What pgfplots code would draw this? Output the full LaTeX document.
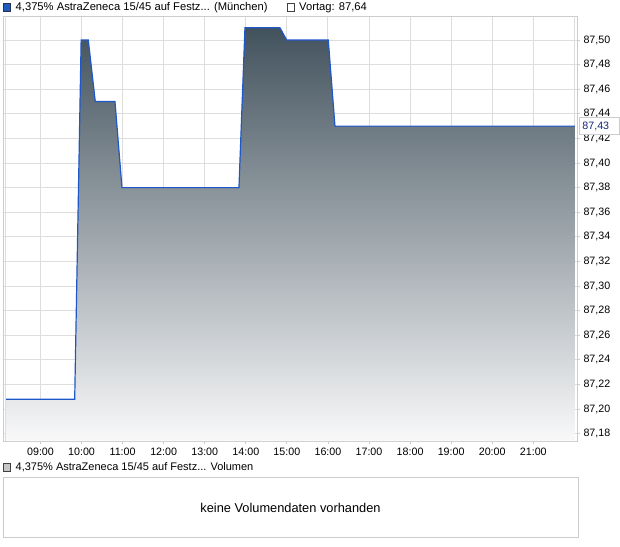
\documentclass[border=0pt]{standalone}
\usepackage{fontspec}
\setmainfont{Liberation Sans}
\usepackage{pgfplots}
\pgfplotsset{compat=1.18}
\definecolor{lineblue}{RGB}{30,88,200}
\definecolor{legblue}{RGB}{31,90,190}
\definecolor{legborder}{RGB}{40,50,80}
\definecolor{gridc}{RGB}{221,221,221}
\definecolor{framec}{RGB}{204,204,204}
\definecolor{shtop}{RGB}{66,82,93}
\definecolor{shbot}{RGB}{249,249,250}
\definecolor{labblue}{RGB}{20,40,120}
\begin{document}
\begin{tikzpicture}[x=1pt,y=1pt,font=\fontsize{10.5}{12}\selectfont]
\path (0,0) rectangle (620,-546);
% header legend
\draw[fill=legblue, draw=legborder, line width=0.8pt] (3,-3.5) rectangle (10.5,-11);
\node[anchor=west, inner sep=0, font=\fontsize{11.2}{13}\selectfont] at (15.5,-7.5) {4,375\% AstraZeneca 15/45 auf Festz... (München)};
\draw[fill=white, draw=black!75, line width=0.8pt] (287,-3.5) rectangle (294.5,-11);
\node[anchor=west, inner sep=0, font=\fontsize{11.2}{13}\selectfont] at (299,-7.5) {Vortag: 87,64};
\begin{axis}[
  at={(3pt,-16.3pt)}, anchor=north west,
  scale only axis, width=574pt, height=424.7pt,
  xmin=8.087, xmax=22.065, ymin=87.174, ymax=87.5193,
  axis line style={framec, line width=0.8pt},
  xtick={9,10,11,12,13,14,15,16,17,18,19,20,21},
  xticklabels={09:00,10:00,11:00,12:00,13:00,14:00,15:00,16:00,17:00,18:00,19:00,20:00,21:00},
  extra x ticks={22}, extra x tick labels={},
  extra x tick style={grid=major, major tick length=0pt},
  ytick={87.18,87.20,87.22,87.24,87.26,87.28,87.30,87.32,87.34,87.36,87.38,87.40,87.42,87.44,87.46,87.48,87.50},
  yticklabel pos=right, ytick pos=right, xtick pos=left,
  tick align=outside, major tick length=3pt,
  tick style={framec, line width=0.8pt},
  grid=major, major grid style={gridc, line width=1pt},
  /pgf/number format/assume math mode=true,
  y tick label style={/pgf/number format/.cd, use comma, fixed, fixed zerofill, precision=2, 1000 sep={}},
  tick label style={font=\fontsize{10.7}{12}\selectfont, text=black},
  clip mode=individual,
]
\addplot[draw=none, top color=shtop, bottom color=shbot] coordinates {
 (8.136,87.174) (8.136,87.208) (9.833,87.208) (9.99,87.50) (10.164,87.50)
 (10.334,87.45) (10.814,87.45) (10.984,87.38) (13.833,87.38) (13.979,87.51)
 (14.831,87.51) (14.995,87.50) (16.008,87.50) (16.171,87.43) (22.016,87.43)
 (22.016,87.174)};
\addplot[lineblue, line width=1.2pt] coordinates {
 (8.136,87.208) (9.833,87.208) (9.99,87.50) (10.164,87.50)
 (10.334,87.45) (10.814,87.45) (10.984,87.38) (13.833,87.38) (13.979,87.51)
 (14.831,87.51) (14.995,87.50) (16.008,87.50) (16.171,87.43) (22.016,87.43)};
\coordinate (lab) at (axis cs:22.065,87.43);
\end{axis}
\draw[gridc, line width=1pt] (5,-16.3) -- (5,-441);
\node[draw=framec, fill=white, anchor=west, xshift=2pt, inner xsep=3pt, inner ysep=0pt,
  minimum height=17pt, text width=33.6pt, align=left, text=labblue, line width=0.8pt,
  font=\fontsize{10.7}{12}\selectfont] at (lab) {87,43};
% volume panel
\draw[fill=gray!45, draw=black!75, line width=0.8pt] (3,-463.5) rectangle (10.5,-471);
\node[anchor=west, inner sep=0, font=\fontsize{11}{13}\selectfont] at (15.5,-467.5) {4,375\% AstraZeneca 15/45 auf Festz... Volumen};
\draw[framec, line width=0.8pt] (3,-477.5) rectangle (578,-537.5);
\node[font=\fontsize{12.8}{15}\selectfont] at (290.5,-507.5) {keine Volumendaten vorhanden};
\end{tikzpicture}
\end{document}
